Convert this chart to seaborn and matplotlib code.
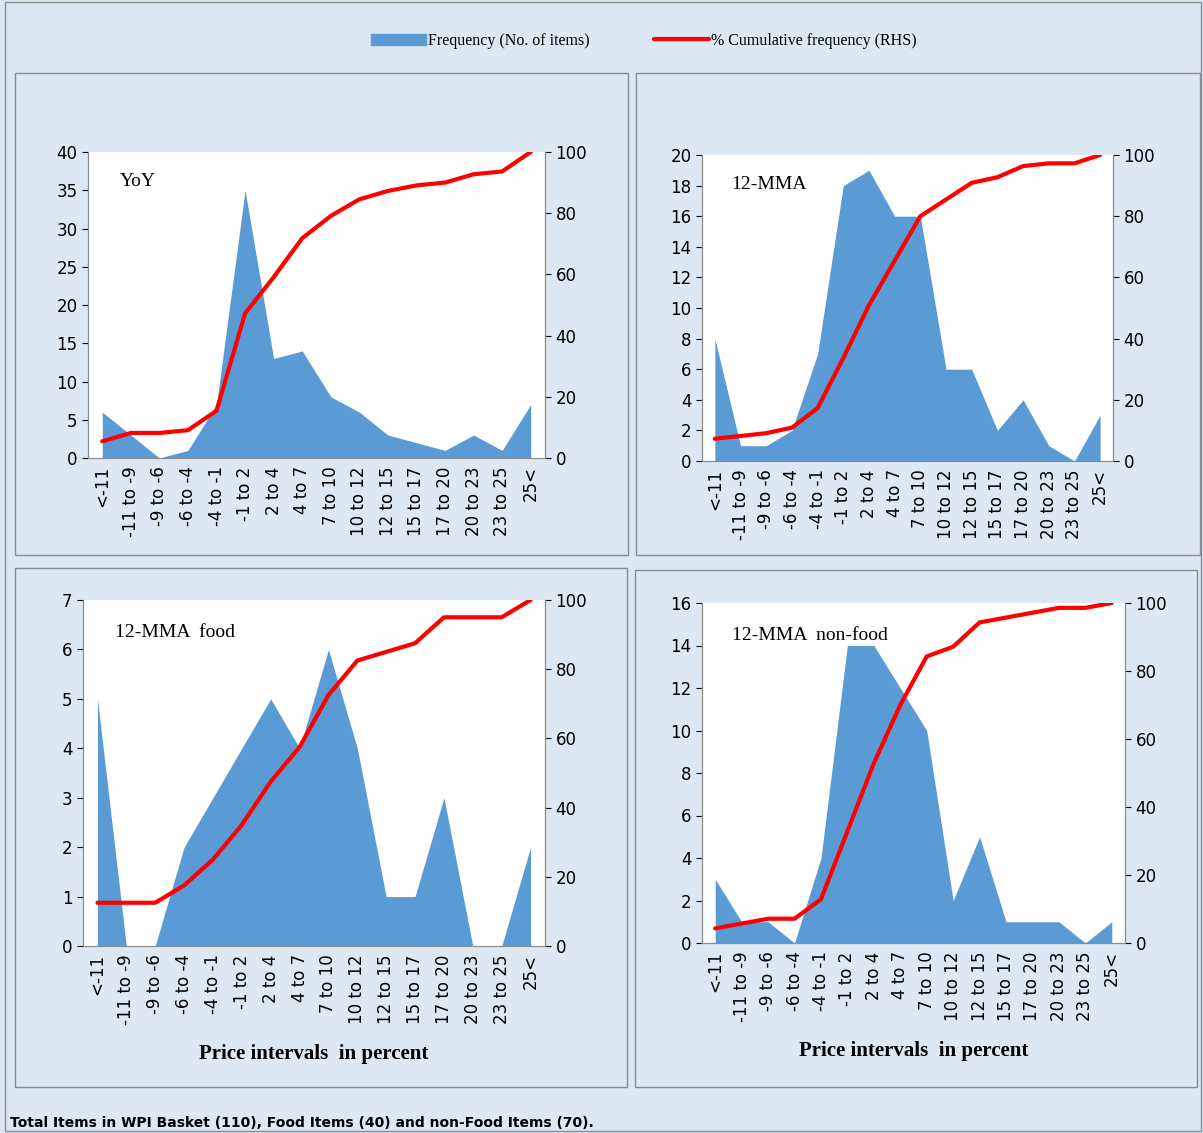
import matplotlib
matplotlib.use("Agg")
import matplotlib.pyplot as plt
from matplotlib.patches import Rectangle
from matplotlib.lines import Line2D
import numpy as np
import pandas as pd
import seaborn as sns

sns.set_style("white")
plt.rcParams['font.family'] = ['Liberation Serif', 'DejaVu Serif']
for k in ("text.color", "axes.labelcolor", "xtick.color", "ytick.color"):
    plt.rcParams[k] = "black"

categories = ["<-11", "-11 to -9", "-9 to -6", "-6 to -4", "-4 to -1", "-1 to 2", "2 to 4",
              "4 to 7", "7 to 10", "10 to 12", "12 to 15", "15 to 17", "17 to 20",
              "20 to 23", "23 to 25", "25<"]
freq_yoy = [6, 3, 0, 1, 7, 35, 13, 14, 8, 6, 3, 2, 1, 3, 1, 7]
freq_mma = [8, 1, 1, 2, 7, 18, 19, 16, 16, 6, 6, 2, 4, 1, 0, 3]
freq_food = [5, 0, 0, 2, 3, 4, 5, 4, 6, 4, 1, 1, 3, 0, 0, 2]
freq_nonfood = [3, 1, 1, 0, 4, 14, 14, 12, 10, 2, 5, 1, 1, 1, 0, 1]

W, H = 1203, 1133
fig = plt.figure(figsize=(W / 100, H / 100), dpi=100)
fig.patch.set_facecolor("#dce8f4")

def px(x0, y0, x1, y1):
    return [x0 / W, 1 - y1 / H, (x1 - x0) / W, (y1 - y0) / H]

for (x0, y0, x1, y1) in [(5, 2, 1201, 1131), (15, 73, 628, 555), (636, 73, 1200, 555),
                         (15, 568, 627, 1087), (635, 570, 1197, 1087)]:
    fig.patches.append(Rectangle((x0 / W, 1 - y1 / H), (x1 - x0) / W, (y1 - y0) / H,
                                 transform=fig.transFigure, fill=False,
                                 edgecolor="#8c8c8c", lw=1))

panels = [
    (freq_yoy, "YoY", px(88, 152, 545, 458), 40, 5, False),
    (freq_mma, "12-MMA", px(702, 155, 1113, 461), 20, 2, False),
    (freq_food, "12-MMA  food", px(83, 600, 545, 946), 7, 1, True),
    (freq_nonfood, "12-MMA  non-food", px(702, 603, 1125, 943), 16, 2, True),
]

for freq, title, rect, ymax, ystep, xl in panels:
    ax = fig.add_axes(rect)
    x = np.arange(len(categories))
    f = np.array(freq, dtype=float)
    cum = np.cumsum(f) / f.sum() * 100
    df = pd.DataFrame({"x": x, "freq": f, "cum": cum})
    ax.fill_between(df["x"], df["freq"], color="#5b9bd5", lw=0)
    ax.set_xlim(-0.5, len(categories) - 0.5)
    ax.set_ylim(0, ymax)
    ax.set_yticks(np.arange(0, ymax + 0.1, ystep))
    ax.set_xticks(x)
    ax.set_xticklabels(categories, rotation=90, fontsize=12, family=["DejaVu Sans"])
    ax.tick_params(axis="y", labelsize=12, length=4, direction="out", left=True)
    ax.tick_params(axis="x", length=0, pad=6)
    for lbl in ax.get_yticklabels():
        lbl.set_family(["DejaVu Sans"])
    ax2 = ax.twinx()
    sns.lineplot(data=df, x="x", y="cum", ax=ax2, color="#ff0000", lw=3)
    ax2.set_ylim(0, 100)
    ax2.set_yticks(range(0, 101, 20))
    ax2.tick_params(axis="y", labelsize=12, length=4, direction="out", right=True)
    for lbl in ax2.get_yticklabels():
        lbl.set_family(["DejaVu Sans"])
    ax2.set_ylabel("")
    ax2.set_xlabel("")
    for a in (ax, ax2):
        a.spines["top"].set_visible(False)
        for s in ("left", "right", "bottom"):
            a.spines[s].set_color("#8c8c8c")
            a.spines[s].set_linewidth(0.8)
    ax.text(0.07, 0.93, title, transform=ax.transAxes, fontsize=14, va="top")
    if xl:
        ax.set_xlabel("Price intervals  in percent", fontsize=15, fontweight="bold", labelpad=14)
    else:
        ax.set_xlabel("")

handles = [Rectangle((0, 0), 1, 1, color="#5b9bd5"),
           Line2D([0], [0], color="#ff0000", lw=3)]
fig.legend(handles, ["Frequency (No. of items)", "% Cumulative frequency (RHS)"],
           loc="center", bbox_to_anchor=(0.535, 1 - 41 / H), ncol=2, frameon=False,
           fontsize=11.5, handlelength=3.5, columnspacing=4, handletextpad=0.1)

fig.text(10 / W, 1 - 1123 / H, "Total Items in WPI Basket (110), Food Items (40) and non-Food Items (70).",
         fontsize=10, fontweight="bold", family=["DejaVu Sans"], va="center")

fig.savefig("out.png", dpi=100, facecolor=fig.get_facecolor())
